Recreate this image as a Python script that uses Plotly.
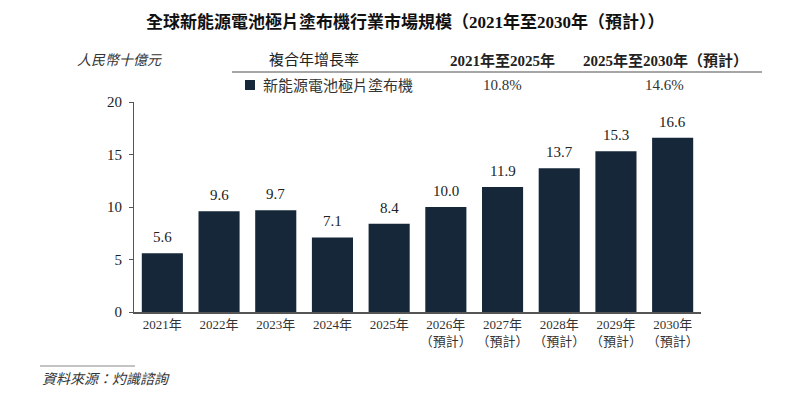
import plotly.graph_objects as go

years = ["2021年", "2022年", "2023年", "2024年", "2025年",
         "2026年<br>（預計）", "2027年<br>（預計）", "2028年<br>（預計）",
         "2029年<br>（預計）", "2030年<br>（預計）"]
values = [5.6, 9.6, 9.7, 7.1, 8.4, 10.0, 11.9, 13.7, 15.3, 16.6]
value_labels = ["5.6", "9.6", "9.7", "7.1", "8.4", "10.0", "11.9", "13.7", "15.3", "16.6"]
y_ticks = [0, 5, 10, 15, 20]

title_text = "<b>全球新能源電池極片塗布機行業市場規模（2021年至2030年（預計））</b>"
unit_text = "人民幣十億元"
cagr_header = "複合年增長率"
period1 = "<b>2021年至2025年</b>"
period2 = "<b>2025年至2030年（預計）</b>"
series_name = "新能源電池極片塗布機"
cagr1 = "10.8%"
cagr2 = "14.6%"
source_text = "資料來源：灼識諮詢"

BAR = "#16273A"
FONT = "Liberation Serif, Times New Roman, Noto Sans CJK TC, serif"
CJK = "Liberation Serif, Noto Sans CJK TC, serif"

OFF = 8  # page body margin
W, H = 810 - OFF, 399 - OFF
L, R, T, B = 134 - OFF, 701 - OFF, 102 - OFF, 312 - OFF  # plot area pixels in figure


def px(x):
    return (x - OFF - L) / (R - L)


def py(y):
    return (B - (y - OFF)) / (B - T)


fig = go.Figure()
fig.add_trace(go.Bar(x=years, y=values, marker_color=BAR, marker_line_width=0,
                     hoverinfo="skip"))

ann = []
for xv, yv, t in zip(years, values, value_labels):
    ann.append(dict(x=xv, y=yv, text=t, showarrow=False, xref="x", yref="y",
                    yanchor="bottom", yshift=6,
                    font=dict(family=FONT, size=15, color="#222222")))

ann += [
    dict(x=px(405), y=py(22), text=title_text, xanchor="center", yanchor="middle",
         font=dict(family=CJK, size=17, color="#111111")),
    dict(x=px(75), y=py(60), text=f"<i>{unit_text}</i>", xanchor="left", yanchor="middle",
         font=dict(family=CJK, size=14, color="#333333")),
    dict(x=px(267), y=py(60), text=cagr_header, xanchor="left", yanchor="middle",
         font=dict(family=CJK, size=15, color="#222222")),
    dict(x=px(502), y=py(60), text=period1, xanchor="center", yanchor="middle",
         font=dict(family=CJK, size=15, color="#222222")),
    dict(x=px(665), y=py(60), text=period2, xanchor="center", yanchor="middle",
         font=dict(family=CJK, size=15, color="#222222")),
    dict(x=px(261), y=py(85), text=series_name, xanchor="left", yanchor="middle",
         font=dict(family=CJK, size=15, color="#333333")),
    dict(x=px(502), y=py(85), text=cagr1, xanchor="center", yanchor="middle",
         font=dict(family=FONT, size=15, color="#333333")),
    dict(x=px(664), y=py(85), text=cagr2, xanchor="center", yanchor="middle",
         font=dict(family=FONT, size=15, color="#333333")),
    dict(x=px(40), y=py(379), text=f"<i>{source_text}</i>", xanchor="left", yanchor="middle",
         font=dict(family=CJK, size=14, color="#333333")),
]
for a in ann[len(years):]:
    a.update(xref="paper", yref="paper", showarrow=False)

shapes = [
    dict(type="line", xref="paper", yref="paper", x0=px(232), x1=px(762),
         y0=py(72), y1=py(72), line=dict(color="#888888", width=1.5)),
    dict(type="rect", xref="paper", yref="paper", x0=px(245), x1=px(255),
         y0=py(90), y1=py(80), fillcolor=BAR, line=dict(width=0)),
    dict(type="line", xref="paper", yref="paper", x0=px(40), x1=px(135),
         y0=py(366), y1=py(366), line=dict(color="#888888", width=1)),
]

fig.update_layout(
    width=W, height=H,
    margin=dict(l=L, r=W - R, t=T, b=H - B, pad=0),
    paper_bgcolor="white", plot_bgcolor="white",
    showlegend=False, bargap=0.275,
    annotations=ann, shapes=shapes,
    font=dict(family=FONT, size=14, color="#222222"),
)
fig.update_xaxes(showline=True, linecolor="#555555", linewidth=1.5, ticks="",
                 showgrid=False, tickfont=dict(family=CJK, size=13, color="#333333"),
                 fixedrange=True)
fig.update_yaxes(range=[0, 20], tickvals=y_ticks, showline=True, linecolor="#555555",
                 linewidth=1, ticks="outside", ticklen=4, tickcolor="#555555",
                 showgrid=False, zeroline=False, ticklabelstandoff=4,
                 tickfont=dict(family=FONT, size=15, color="#222222"), fixedrange=True)

fig.write_html("out.html", config={"displayModeBar": False})
